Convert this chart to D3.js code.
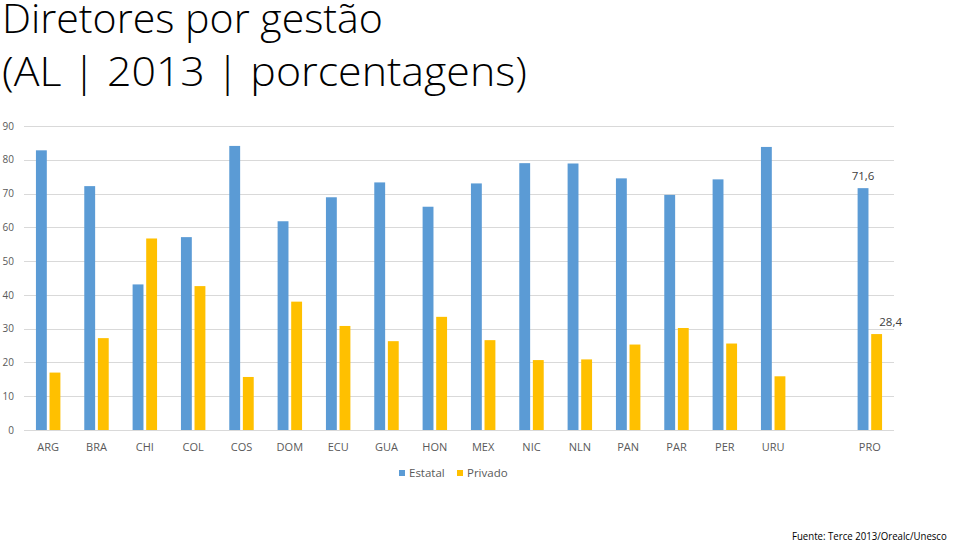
<!DOCTYPE html>
<html><head><meta charset="utf-8">
<script src="https://cdn.jsdelivr.net/npm/d3@7"></script>
<style>body{margin:0;background:#fff}svg{display:block}text{font-family:"Open Sans","DejaVu Sans",sans-serif}</style>
</head><body>
<svg id="c" width="960" height="546"></svg>
<script>
const categories = ["ARG","BRA","CHI","COL","COS","DOM","ECU","GUA","HON","MEX","NIC","NLN","PAN","PAR","PER","URU","","PRO"];
const estatal = [82.8,72.2,43.1,57.1,84.1,61.8,68.9,73.3,66.1,73.0,79.0,78.9,74.5,69.6,74.2,83.8,null,71.6];
const privado = [17.0,27.2,56.7,42.6,15.7,38.0,30.8,26.3,33.5,26.6,20.7,20.9,25.3,30.2,25.6,15.9,null,28.4];
const seriesNames = ["Estatal","Privado"];
const colors = ["#5B9BD5","#FFC000"];
const yTicks = [0,10,20,30,40,50,60,70,80,90];
const labelled = {"PRO": ["71,6","28,4"]};

const svg = d3.select("#c");
const x = d3.scaleBand().domain(categories).range([24, 894]).padding(0);
const step = x.step();
const x1 = d3.scaleBand().domain(seriesNames).range([step*0.247, step*0.753]).paddingInner(0.2);
const y = d3.scaleLinear().domain([0, 90]).range([430, 126]);

// helper: text fitted horizontally to a target width via transform
function fitText(str, xPos, yPos, size, weight, fill, width, anchorEnd){
  const t = svg.append("text").attr("font-size",size).attr("font-weight",weight).attr("fill",fill).text(str);
  const w = t.node().getComputedTextLength();
  const s = width / w;
  const x0 = anchorEnd ? xPos - w*s : xPos;
  t.attr("transform",`translate(${x0},${yPos}) scale(${s},1)`);
  return t;
}

// title
fitText("Diretores por gestão", 2, 33, 40, 300, "#000", 381);
fitText("(AL | 2013 | porcentagens)", 2, 86, 40, 300, "#000", 525);

// grid
svg.append("g").selectAll("line").data(yTicks).join("line")
  .attr("x1",24).attr("x2",894).attr("y1",d=>Math.round(y(d))+0.5).attr("y2",d=>Math.round(y(d))+0.5)
  .attr("stroke","#d9d9d9").attr("stroke-width",1);

// y labels
const yAxis = svg.append("g").attr("transform","translate(14,0)")
  .call(d3.axisLeft(y).tickValues(yTicks).tickSize(0).tickPadding(0));
yAxis.select(".domain").remove();
yAxis.selectAll("text").attr("font-size",10).attr("fill","#595959").attr("font-family","'Open Sans',sans-serif");

// x labels
const xAxis = svg.append("g").attr("transform","translate(0,430)")
  .call(d3.axisBottom(x).tickSize(0).tickPadding(13));
xAxis.select(".domain").remove();
xAxis.selectAll("text").attr("font-size",11).attr("fill","#595959").attr("font-family","'Open Sans',sans-serif");

// bars
const data = categories.map((c,i)=>({cat:c, vals:[estatal[i], privado[i]]}));
const g = svg.append("g");
data.forEach(d=>{
  d.vals.forEach((v,j)=>{
    if(v==null) return;
    g.append("rect").attr("x",x(d.cat)+x1(seriesNames[j])).attr("width",x1.bandwidth())
      .attr("y",y(v)).attr("height",y(0)-y(v)).attr("fill",colors[j]);
  });
  if(labelled[d.cat]){
    const lab = labelled[d.cat];
    svg.append("text").attr("x",x(d.cat)+x1("Estatal")+x1.bandwidth()/2).attr("y",y(d.vals[0])-8)
      .attr("text-anchor","middle").attr("font-size",11.5).attr("fill","#404040").text(lab[0]);
    svg.append("text").attr("x",x(d.cat)+x1("Privado")+x1.bandwidth()/2+14).attr("y",y(d.vals[1])-8)
      .attr("text-anchor","middle").attr("font-size",11.5).attr("fill","#404040").text(lab[1]);
  }
});

// legend
const lg = svg.append("g");
const legX = [399, 457];
seriesNames.forEach((s,i)=>{
  lg.append("rect").attr("x",legX[i]).attr("y",470).attr("width",6).attr("height",6).attr("fill",colors[i]);
  lg.append("text").attr("x",legX[i]+10).attr("y",477).attr("font-size",11.5).attr("fill","#595959").text(s);
});

// source
fitText("Fuente: Terce 2013/Orealc/Unesco", 947, 540, 11.5, 400, "#000", 155, true);
</script>
</body></html>
